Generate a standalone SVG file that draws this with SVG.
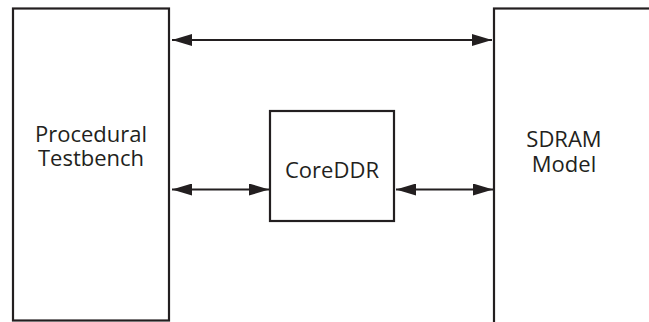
<svg xmlns="http://www.w3.org/2000/svg" width="649" height="322" viewBox="0 0 649 322">
<style>
.box{fill:#fff;stroke:#231f20;stroke-width:2.2}
.lbl{font-family:"Open Sans","Noto Sans",sans-serif;font-size:22px;fill:#231f20;text-anchor:middle}
.con{stroke:#231f20;stroke-width:2.2;fill:none;marker-start:url(#ah);marker-end:url(#ah)}
</style>
<defs>
<marker id="ah" viewBox="0 0 20 12" refX="20" refY="6" markerWidth="20" markerHeight="12" markerUnits="userSpaceOnUse" orient="auto-start-reverse">
<path d="M0,0 L20,6 L0,12 Z" fill="#231f20"/>
</marker>
</defs>
<g id="testbench">
<rect class="box" x="13" y="8.5" width="156" height="312"/>
<text class="lbl" x="91" y="141.5">Procedural</text>
<text class="lbl" x="91" y="165.5">Testbench</text>
</g>
<g id="sdram">
<rect class="box" x="494" y="8.5" width="170" height="330"/>
<text class="lbl" x="564" y="147">SDRAM</text>
<text class="lbl" x="564" y="172">Model</text>
</g>
<g id="coreddr">
<rect class="box" x="270" y="111" width="124" height="110"/>
<text class="lbl" x="332" y="178">CoreDDR</text>
</g>
<g id="connectors">
<line class="con" x1="172" y1="40" x2="492" y2="40"/>
<line class="con" x1="172" y1="189.5" x2="269" y2="189.5"/>
<line class="con" x1="396" y1="189.5" x2="493" y2="189.5"/>
</g>
</svg>
